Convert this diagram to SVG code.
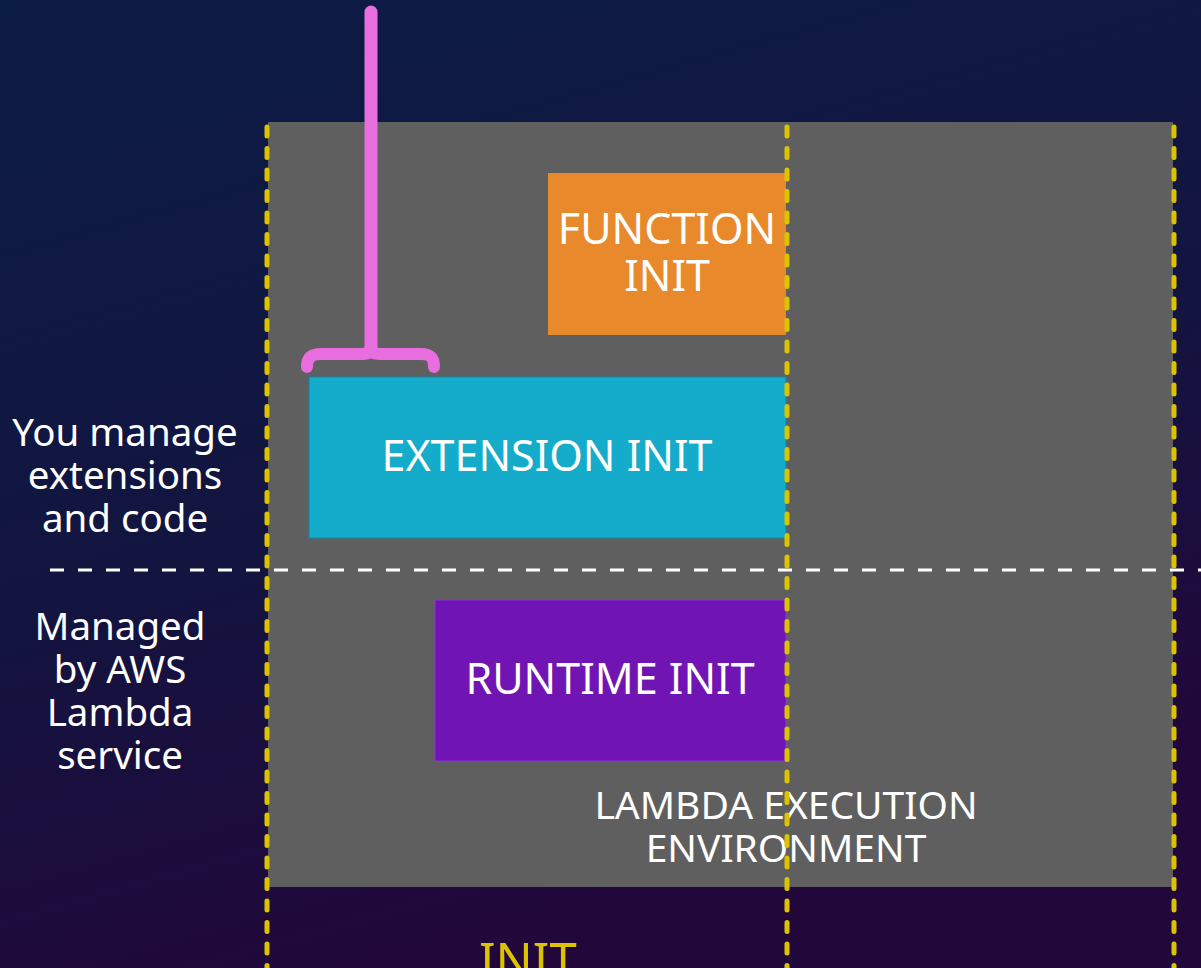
<svg xmlns="http://www.w3.org/2000/svg" width="1201" height="968" viewBox="0 0 1201 968">
  <style>
    .lbl { font-family: "Noto Sans", "Open Sans", sans-serif; fill: #ffffff; text-anchor: middle; }
    .phase { font-size: 43px; }
    .side { font-size: 38.5px; }
    .env { font-size: 39px; }
    .marker { fill: none; stroke: #dcc300; stroke-width: 5; stroke-linecap: round; stroke-dasharray: 9 12.5; }
  </style>
  <defs>
    <linearGradient id="bg" x1="0" y1="0" x2="0.35" y2="1">
      <stop offset="0" stop-color="#0b1c45"/>
      <stop offset="0.55" stop-color="#121540"/>
      <stop offset="1" stop-color="#22073a"/>
    </linearGradient>
  </defs>

  <rect width="1201" height="968" fill="url(#bg)"/>

  <!-- execution environment -->
  <g id="environment">
    <rect x="268" y="122" width="905" height="765" fill="#5f5f5f"/>
    <text class="lbl env" x="786" y="819">LAMBDA EXECUTION</text>
    <text class="lbl env" x="786" y="862">ENVIRONMENT</text>
  </g>

  <!-- boundary between customer-managed and service-managed layers -->
  <line x1="50" y1="570" x2="1201" y2="570" stroke="#ffffff" stroke-width="3" stroke-dasharray="14 14"/>

  <g id="function-init">
    <rect x="548" y="173" width="238" height="162" fill="#e8892b"/>
    <text class="lbl phase" x="667" y="244">FUNCTION</text>
    <text class="lbl phase" x="667" y="291">INIT</text>
  </g>

  <g id="extension-init">
    <rect x="309" y="377" width="477" height="161" fill="#14acca" stroke="#0f86a2" stroke-width="1"/>
    <text class="lbl phase" x="547" y="471">EXTENSION INIT</text>
  </g>

  <g id="runtime-init">
    <rect x="435" y="600" width="351" height="161" fill="#7015b3" stroke="#8d34d6" stroke-width="1"/>
    <text class="lbl phase" x="610" y="694">RUNTIME INIT</text>
  </g>

  <g id="customer-label">
    <text class="lbl side" x="125" y="446">You manage</text>
    <text class="lbl side" x="125" y="489">extensions</text>
    <text class="lbl side" x="125" y="532">and code</text>
  </g>

  <g id="service-label">
    <text class="lbl side" x="120" y="640">Managed</text>
    <text class="lbl side" x="120" y="683">by AWS</text>
    <text class="lbl side" x="120" y="726">Lambda</text>
    <text class="lbl side" x="120" y="769">service</text>
  </g>

  <!-- phase boundary markers -->
  <g id="connectors">
    <line class="marker" x1="267" y1="127" x2="267" y2="968"/>
    <line class="marker" x1="787" y1="127" x2="787" y2="968"/>
    <line class="marker" x1="1174" y1="127" x2="1174" y2="968"/>
    <!-- pointer bracket over the extension phase -->
    <path d="M371 12 V350" fill="none" stroke="#e86ee0" stroke-width="13" stroke-linecap="round"/>
    <path d="M307 367 C307 358 311 354 321 354 H362 C368 354 371 352 371 347 C371 352 374 354 380 354 H421 C431 354 434 358 434 367" fill="none" stroke="#e86ee0" stroke-width="12" stroke-linecap="round" stroke-linejoin="round"/>
  </g>

  <g id="init-label">
    <text x="479" y="978" font-family="Noto Sans, Open Sans, sans-serif" font-size="49" fill="#dcc300">INIT</text>
  </g>
</svg>
